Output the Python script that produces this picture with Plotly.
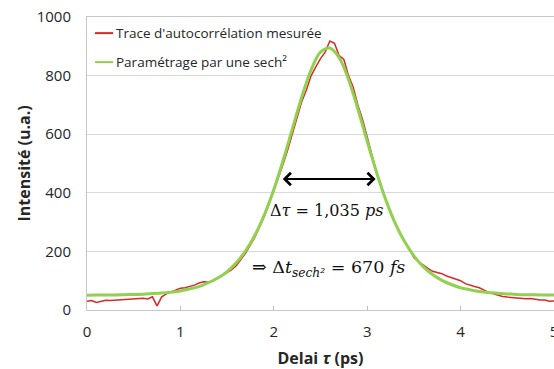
import plotly.graph_objects as go

# Measured autocorrelation trace (delay in ps, intensity in a.u.)
delay_meas = [round(i * 0.05, 2) for i in range(101)]
trace_meas = [
    30, 32, 26, 29, 33, 32, 33, 33, 35, 36,
    38, 37, 40, 38, 45, 14, 45, 55, 62, 68,
    74, 76, 80, 85, 92, 96, 95, 100, 108, 118,
    126, 138, 152, 172, 195, 222, 250, 285, 320, 362,
    405, 448, 498, 548, 604, 660, 712, 752, 800, 830,
    858, 880, 918, 910, 868, 855, 800, 760, 700, 650,
    590, 530, 470, 420, 375, 332, 296, 262, 232, 210,
    178, 165, 152, 142, 132, 128, 124, 116, 110, 104,
    100, 90, 84, 80, 76, 68, 60, 55, 50, 46,
    44, 42, 42, 40, 38, 39, 36, 34, 34, 30,
    31,
]

# sech^2 fit of the trace
delay_fit = [round(i * 0.1, 1) for i in range(51)]
trace_fit = [
    50, 51, 51, 51, 52, 53, 54, 56, 58, 61,
    65, 72, 80, 93, 109, 131, 162, 203, 257, 326,
    411, 511, 620, 728, 820, 880, 894, 861, 787, 686,
    576, 470, 375, 296, 234, 185, 148, 121, 101, 87,
    76, 69, 63, 60, 57, 55, 53, 52, 52, 51,
    51,
]

series_names = ["Trace d'autocorrélation mesurée", "Paramétrage par une sech²"]
series_colors = ["#d42a2a", "#92d050"]

# FWHM marker of the fitted trace
fwhm_start, fwhm_end, fwhm_level = 2.08, 3.09, 447
fwhm_label = "Δ<i>τ</i> = 1,035 <i>ps</i>"
pulse_label = "⇒ Δ<i>t</i><sub><i>sech²</i></sub> = 670 <i>fs</i>"

x_ticks = [0, 1, 2, 3, 4, 5]
y_ticks = [0, 200, 400, 600, 800, 1000]
x_title = "<b>Delai <i>τ</i> (ps)</b>"
y_title = "<b>Intensité (u.a.)</b>"

fig = go.Figure()
fig.add_trace(go.Scatter(
    x=delay_meas, y=trace_meas, mode="lines", name=series_names[0],
    line=dict(color=series_colors[0], width=1.5), showlegend=False,
))
fig.add_trace(go.Scatter(
    x=delay_fit, y=trace_fit, mode="lines", name=series_names[1],
    line=dict(color=series_colors[1], width=3, shape="spline"), showlegend=False,
))

# legend drawn as short line samples with labels, top-left of the plot
legend_rows = [0.945, 0.846]
for name, color, yy in zip(series_names, series_colors, legend_rows):
    fig.add_shape(type="line", xref="paper", yref="paper",
                  x0=0.017, x1=0.056, y0=yy, y1=yy,
                  line=dict(color=color, width=2))
    fig.add_annotation(xref="paper", yref="paper", x=0.058, y=yy,
                       text=name, showarrow=False, xanchor="left", yanchor="middle",
                       font=dict(family="Open Sans", size=13.5, color="#262626"))

# double-headed FWHM arrow
fig.add_annotation(x=fwhm_end, y=fwhm_level, ax=fwhm_start, ay=fwhm_level,
                   xref="x", yref="y", axref="x", ayref="y", text="",
                   showarrow=True, arrowhead=4, arrowside="end+start",
                   arrowsize=1.2, arrowwidth=2, arrowcolor="#000000")
fig.add_annotation(x=2.56, y=341, text=fwhm_label, showarrow=False,
                   font=dict(family="DejaVu Serif", size=16, color="#111111"))
fig.add_annotation(x=2.59, y=143, text=pulse_label, showarrow=False,
                   font=dict(family="DejaVu Serif", size=17.5, color="#111111"))

# vertical axis title, placed in the left margin
fig.add_annotation(xref="paper", yref="paper", x=-0.137, y=0.5,
                   text=y_title, textangle=-90, showarrow=False,
                   xanchor="center", yanchor="middle",
                   font=dict(family="Open Sans", size=16, color="#262626"))

fig.update_layout(
    width=554, height=369,
    margin=dict(l=87, r=0, t=17, b=59, autoexpand=False),
    paper_bgcolor="white", plot_bgcolor="white",
    font=dict(family="Open Sans", color="#262626"),
)
fig.update_xaxes(
    range=[0, 5], tickvals=x_ticks, ticktext=[str(v) for v in x_ticks],
    showgrid=False, zeroline=False, automargin=False,
    showline=True, linecolor="#c8c8c8", linewidth=1, mirror=True,
    ticks="inside", ticklen=4, tickcolor="#bfbfbf",
    tickfont=dict(size=15), ticklabelstandoff=8, ticklabeloverflow="allow",
    title=dict(text=x_title, font=dict(size=16)),
)
fig.update_yaxes(
    range=[0, 1000], tickvals=y_ticks, ticktext=[str(v) for v in y_ticks],
    showgrid=True, gridcolor="#d9d9d9", gridwidth=1, zeroline=False,
    automargin=False,
    showline=True, linecolor="#c8c8c8", linewidth=1,
    ticks="", tickfont=dict(size=15), ticklabelstandoff=12,
)

fig.write_html("out.html")
